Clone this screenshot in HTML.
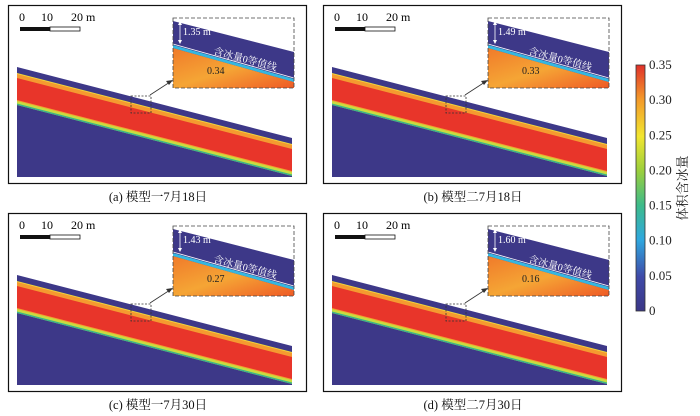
<!DOCTYPE html>
<html><head><meta charset="utf-8">
<style>
html,body{margin:0;padding:0;background:#fff;}
svg{display:block;font-family:"Liberation Serif","Noto Serif CJK SC",serif;}
</style></head>
<body>
<svg id="fig" width="700" height="416" viewBox="0 0 700 416" xmlns="http://www.w3.org/2000/svg">
<defs>
<linearGradient id="cbar" x1="0" y1="1" x2="0" y2="0">
<stop offset="0" stop-color="#3b3787"/>
<stop offset="0.14" stop-color="#3f4aa8"/>
<stop offset="0.29" stop-color="#2fa8df"/>
<stop offset="0.43" stop-color="#3dbb8a"/>
<stop offset="0.57" stop-color="#9bcf3c"/>
<stop offset="0.71" stop-color="#f2e630"/>
<stop offset="0.86" stop-color="#f39a2a"/>
<stop offset="1" stop-color="#e0302a"/>
</linearGradient>
<linearGradient id="insetFill" x1="0" y1="0" x2="1" y2="1">
<stop offset="0" stop-color="#f07a2a"/>
<stop offset="0.5" stop-color="#f5a535"/>
<stop offset="1" stop-color="#ef5a25"/>
</linearGradient>
</defs>
<g>
<rect x="636" y="65" width="9" height="246" fill="url(#cbar)" stroke="#333" stroke-width="0.8"/>
<g id="cbticks"></g>
<text font-size="13" fill="#222" text-anchor="middle" transform="translate(687,188) rotate(-90)">体积含冰量</text>
</g>
</svg>
<script>
const captions = ['(a) 模型一7月18日','(b) 模型二7月18日','(c) 模型一7月30日','(d) 模型二7月30日'];
const depths = ['1.35 m','1.49 m','1.43 m','1.60 m'];
const iceValues = [0.34, 0.33, 0.27, 0.16];
const cbarTicks = [0, 0.05, 0.10, 0.15, 0.20, 0.25, 0.30, 0.35];
const cbarMin = 0, cbarMax = 0.35;

const NS = 'http://www.w3.org/2000/svg';
const svgRoot = document.getElementById('fig');
function mk(tag, attrs, parent, txt){
  const e = document.createElementNS(NS, tag);
  for (const k in attrs) e.setAttribute(k, attrs[k]);
  if (txt !== undefined) e.textContent = txt;
  (parent || svgRoot).appendChild(e);
  return e;
}

// colorbar ticks
const cbY0 = 65, cbY1 = 311;
const tickG = document.getElementById('cbticks');
for (let j = 0; j < cbarTicks.length; j++){
  const v = cbarTicks[j];
  const yy = cbY1 - (v - cbarMin) / (cbarMax - cbarMin) * (cbY1 - cbY0);
  const lbl = (v === 0) ? '0' : v.toFixed(2);
  const t = mk('text', {x:649, y:yy + 4, 'font-size':13, fill:'#222'}, tickG, lbl);
  
  
}

const origins = [[8,5],[323,5],[8,213],[323,213]];
const sx0 = 9, sx1 = 284, yT0 = 62, yT1 = 133, yB = 172;
function band(g, o1, o2, color){
  mk('polygon', {points: sx0+','+(yT0+o1)+' '+sx1+','+(yT1+o1)+' '+sx1+','+Math.min(yT1+o2,yB)+' '+sx0+','+Math.min(yT0+o2,yB), fill:color}, g);
}

for (let i = 0; i < 4; i++){
  const fx = origins[i][0], fy = origins[i][1];
  const g = mk('g', {transform:'translate('+fx+','+fy+')'});
  
  
  const frame = mk('rect', {x:0.5, y:0.5, width:298, height:178, fill:'#fff', stroke:'#111', 'stroke-width':1.2}, g);
  
  

  const slope = mk('g', {}, g);
  
  
  mk('polygon', {points: sx0+','+yT0+' '+sx1+','+yT1+' '+sx1+','+yB+' '+sx0+','+yB, fill:'#3d3888'}, slope);
  band(slope, 6, 38, '#f0d53a');
  band(slope, 7, 36, '#f59a30');
  band(slope, 11, 33, '#e8352a');
  band(slope, 34, 37, '#c8dc40');
  band(slope, 36.5, 38, '#39b58a');

  const sb = mk('g', {}, g);
  
  
  mk('text', {x:11, y:16, 'font-size':12}, sb, '0');
  mk('text', {x:33, y:16, 'font-size':12}, sb, '10');
  mk('text', {x:63, y:16, 'font-size':12}, sb, '20 m');
  mk('rect', {x:12, y:22, width:30, height:4, fill:'#111'}, sb);
  mk('rect', {x:42, y:22, width:30, height:4, fill:'#fff', stroke:'#111', 'stroke-width':0.8}, sb);

  mk('rect', {x:123, y:91, width:20, height:17, fill:'none', stroke:'#333', 'stroke-width':0.8, 'stroke-dasharray':'2,1.5'}, g);
  mk('line', {x1:142, y1:90, x2:162, y2:77, stroke:'#333', 'stroke-width':0.8}, g);
  mk('polygon', {points:'165,75 158,76 161,80', fill:'#333'}, g);

  const ins = mk('g', {}, g);
  
  
  const ix0 = 165, ix1 = 286, iy0 = 13, iy1 = 83;
  mk('rect', {x:ix0, y:iy0, width:ix1-ix0, height:iy1-iy0, fill:'#fff'}, ins);
  mk('polygon', {points: ix0+','+(iy0+3)+' '+ix1+','+(iy0+34)+' '+ix1+','+iy1+' '+ix0+','+iy1, fill:'#3d3888'}, ins);
  mk('polygon', {points: ix0+','+(iy0+30)+' '+ix1+','+(iy0+64)+' '+ix1+','+iy1+' '+ix0+','+iy1, fill:'url(#insetFill)'}, ins);
  mk('polygon', {points: ix0+','+(iy0+27)+' '+ix1+','+(iy0+61)+' '+ix1+','+(iy0+64)+' '+ix0+','+(iy0+30), fill:'#35b7e0'}, ins);
  mk('line', {x1:ix0, y1:iy0+26, x2:ix1, y2:iy0+60, stroke:'#fff', 'stroke-width':0.8}, ins);
  mk('rect', {x:ix0, y:iy0, width:ix1-ix0, height:iy1-iy0, fill:'none', stroke:'#444', 'stroke-width':0.8, 'stroke-dasharray':'4,2'}, ins);
  mk('line', {x1:ix0+7, y1:iy0+5, x2:ix0+7, y2:iy0+24, stroke:'#fff', 'stroke-width':0.8}, ins);
  mk('polygon', {points:(ix0+7)+','+(iy0+3)+' '+(ix0+5)+','+(iy0+7)+' '+(ix0+9)+','+(iy0+7), fill:'#fff'}, ins);
  mk('polygon', {points:(ix0+7)+','+(iy0+26)+' '+(ix0+5)+','+(iy0+22)+' '+(ix0+9)+','+(iy0+22), fill:'#fff'}, ins);
  const dt = mk('text', {x:ix0+10, y:iy0+17, 'font-size':10, fill:'#fff'}, ins, depths[i]);
  
  
  mk('text', {x:0, y:0, 'font-size':10, fill:'#fff', transform:'translate('+(ix0+40)+','+(iy0+36)+') rotate(15)'}, ins, '含冰量0等值线');
  const vt = mk('text', {x:ix0+34, y:iy0+56, 'font-size':10, fill:'#222'}, ins, iceValues[i].toFixed(2));
  
  

  const cap = mk('text', {x:150, y:196, 'font-size':12.5, 'text-anchor':'middle', fill:'#111'}, g, captions[i]);
  
  
}
</script>
</body></html>
